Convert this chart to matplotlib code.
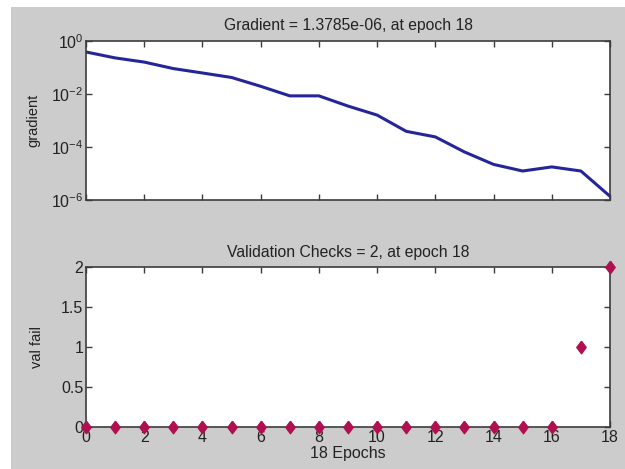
import numpy as np
import matplotlib
matplotlib.use("Agg")
import matplotlib.pyplot as plt
from matplotlib.patches import Rectangle

epochs = list(range(19))
gradient = [0.385, 0.23, 0.16, 0.091, 0.062, 0.042, 0.0195, 0.0085, 0.0085,
            0.0035, 0.0016, 3.9e-4, 2.4e-4, 6.5e-5, 2.2e-5, 1.24e-5, 1.77e-5,
            1.24e-5, 1.3785e-6]
val_fail = [0, 0, 0, 0, 0, 0, 0, 0, 0, 0, 0, 0, 0, 0, 0, 0, 0, 1, 2]
xticks = list(range(0, 19, 2))

plt.rcParams['font.family'] = ['Liberation Sans', 'DejaVu Sans']
bg = '#cccccc'
spine = '#3c3c3c'
txt = '#222222'

fig = plt.figure(figsize=(6.25, 4.69), dpi=100, facecolor='white')
fig.patches.append(Rectangle((11 / 625, 0), 1, 1 - 7 / 469, transform=fig.transFigure,
                             facecolor=bg, edgecolor='none', zorder=-1))

ax1 = fig.add_axes([0.1376, 0.5736, 0.8384, 0.339])
ax2 = fig.add_axes([0.1376, 0.0896, 0.8384, 0.341])

ax1.semilogy(epochs, gradient, color='#25259a', lw=2.2)
ax1.set_xlim(0, 18)
ax1.set_ylim(1e-6, 1)
ax1.set_yticks([1e-6, 1e-4, 1e-2, 1e0])
ax1.yaxis.set_minor_locator(matplotlib.ticker.NullLocator())
ax1.set_xticks(xticks)
ax1.set_xticklabels([])
ax1.set_ylabel('gradient', fontsize=10.5, color=txt)
ax1.yaxis.set_label_coords(-0.088, 0.5)
ax1.set_title('Gradient = 1.3785e-06, at epoch 18', fontsize=11.3, color=txt, pad=8)

# MATLAB-style diamond: a bit taller than wide
diamond = [(0, 1), (0.75, 0), (0, -1), (-0.75, 0), (0, 1)]
ax2.plot(epochs, val_fail, linestyle='none', marker=diamond, markersize=9,
         color='#b0104f', clip_on=False, zorder=5)
ax2.set_xlim(0, 18)
ax2.set_ylim(0, 2)
ax2.set_yticks([0, 0.5, 1, 1.5, 2])
ax2.set_yticklabels(['0', '0.5', '1', '1.5', '2'])
ax2.set_xticks(xticks)
ax2.set_ylabel('val fail', fontsize=10.5, color=txt)
ax2.yaxis.set_label_coords(-0.080, 0.5)
ax2.set_xlabel('18 Epochs', fontsize=11.5, color=txt, labelpad=1)
ax2.set_title('Validation Checks = 2, at epoch 18', fontsize=11.3, color=txt, pad=7)

for ax in (ax1, ax2):
    ax.set_facecolor('white')
    for s in ax.spines.values():
        s.set_color(spine)
        s.set_linewidth(1.2)
    ax.tick_params(direction='in', top=True, right=True, length=4, width=1,
                   color=spine, labelsize=11.5, labelcolor=txt, pad=2)

fig.savefig('out.png', dpi=100, facecolor=fig.get_facecolor())
